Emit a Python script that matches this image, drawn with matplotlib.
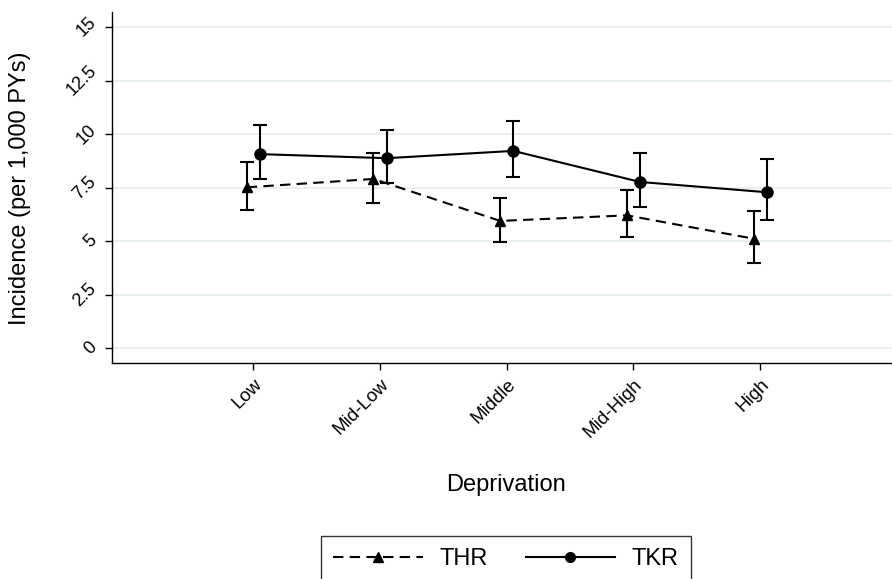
import numpy as np
import matplotlib.pyplot as plt
from matplotlib.lines import Line2D

# Incidence per 1,000 PYs by deprivation group
CATEGORIES = ["Low", "Mid-Low", "Middle", "Mid-High", "High"]

THR_EST = [7.52, 7.91, 5.95, 6.21, 5.12]
THR_LO = [6.45, 6.79, 4.95, 5.20, 4.00]
THR_HI = [8.71, 9.14, 7.03, 7.41, 6.40]

TKR_EST = [9.07, 8.88, 9.22, 7.77, 7.29]
TKR_LO = [7.90, 7.74, 7.99, 6.60, 6.00]
TKR_HI = [10.41, 10.20, 10.60, 9.11, 8.86]

Y_TICKS = [0, 2.5, 5, 7.5, 10, 12.5, 15]
Y_TICK_LABELS = ["0", "2.5", "5", "7.5", "10", "12.5", "15"]

DASHED = (0, (5, 3))

plt.rcParams['font.family'] = ['Liberation Sans', 'DejaVu Sans']

fig = plt.figure(figsize=(8.92, 5.79), dpi=100)
ax = fig.add_axes([0.1252, 0.3725, 0.8748, 0.6065])

x = np.arange(len(CATEGORIES))
off = 0.052


def draw_series(xpos, est, lo, hi, marker, ls, label):
    est = np.array(est)
    yerr = np.vstack([est - np.array(lo), np.array(hi) - est])
    ax.errorbar(xpos, est, yerr=yerr, fmt='none', ecolor='black',
                elinewidth=1.5, capsize=5, capthick=1.5, zorder=3)
    line, = ax.plot(xpos, est, color='black', linestyle=ls, linewidth=1.5,
                    marker=marker, markersize=8 if marker == 'o' else 7,
                    label=label, zorder=4)
    return line


draw_series(x - off, THR_EST, THR_LO, THR_HI, '^', DASHED, "THR")
draw_series(x + off, TKR_EST, TKR_LO, TKR_HI, 'o', '-', "TKR")

ax.set_xlim(-1.118, 5.04)
ax.set_ylim(-0.7, 15.7)

ax.set_yticks(Y_TICKS)
ax.set_yticklabels(Y_TICK_LABELS, rotation=45, fontsize=13, va='center', ha='right')
ax.set_xticks(x)
ax.set_xticklabels(CATEGORIES, rotation=45, fontsize=13.5, ha='right', rotation_mode='anchor')

ax.grid(axis='y', color='#e6eef2', linewidth=1.3, zorder=0)
ax.set_axisbelow(True)
ax.tick_params(axis='both', direction='out', length=5, width=1, color='black')
ax.tick_params(axis='x', pad=4)

for side in ['top', 'right']:
    ax.spines[side].set_visible(False)
for side in ['left', 'bottom']:
    ax.spines[side].set_linewidth(1)

fig.text(20 / 892, 1 - 188 / 579, "Incidence (per 1,000 PYs)", fontsize=17,
         rotation=90, ha='center', va='center')
fig.text(506 / 892, 1 - 485 / 579, "Deprivation", fontsize=17, ha='center', va='center')

# legend handles without error bars, smaller markers
leg_thr = Line2D([], [], color='black', linestyle=DASHED, linewidth=1.5,
                 marker='^', markersize=7)
leg_tkr = Line2D([], [], color='black', linestyle='-', linewidth=1.5,
                 marker='o', markersize=7)
leg = fig.legend([leg_thr, leg_tkr], ["THR", "TKR"], loc='upper center',
                 bbox_to_anchor=(506 / 892, 1 - 536 / 579), ncol=2,
                 fontsize=17, handlelength=3.8, columnspacing=1.6,
                 handletextpad=0.7, fancybox=False, edgecolor='black',
                 borderpad=0.5, borderaxespad=0)
leg.get_frame().set_linewidth(1)

fig.savefig("out.png", dpi=100)
